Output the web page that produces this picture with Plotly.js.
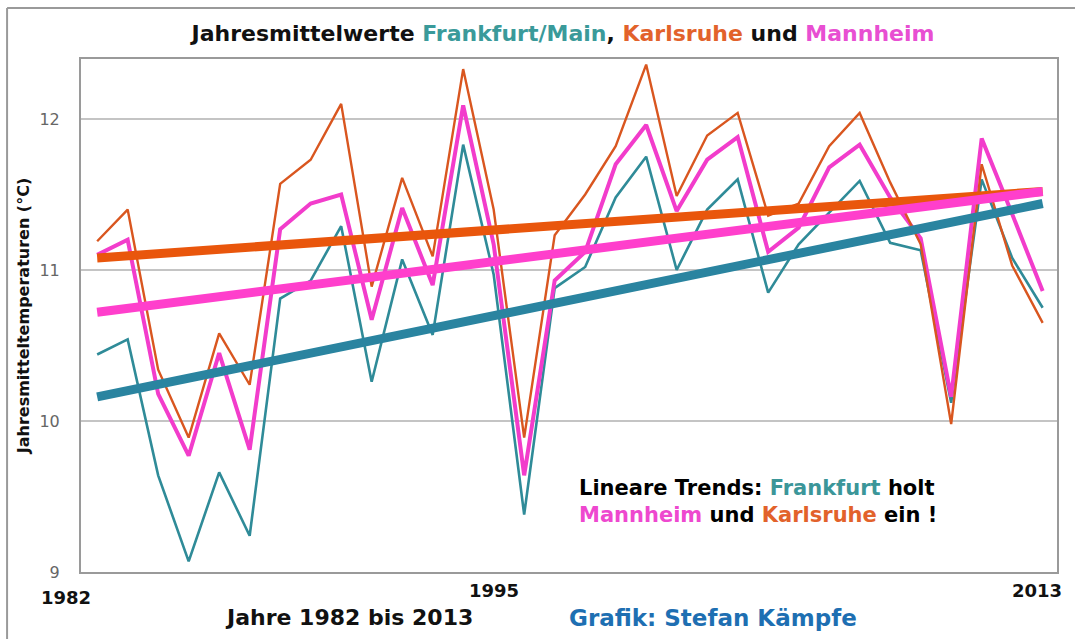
<!DOCTYPE html>
<html>
<head>
<meta charset="utf-8">
<script src="https://cdn.plot.ly/plotly-3.0.1.min.js"></script>
<style>
html,body{margin:0;padding:0;background:#fff;}
#chart{width:1076px;height:639px;}
</style>
</head>
<body>
<div id="chart"></div>
<script>
const years = [1982,1983,1984,1985,1986,1987,1988,1989,1990,1991,1992,1993,1994,1995,1996,1997,
               1998,1999,2000,2001,2002,2003,2004,2005,2006,2007,2008,2009,2010,2011,2012,2013];

const frankfurt = [10.44,10.54,9.64,9.07,9.66,9.24,10.81,10.93,11.29,10.26,11.07,10.57,11.83,10.97,9.38,10.88,
                   11.02,11.48,11.75,11.00,11.40,11.60,10.85,11.17,11.38,11.59,11.18,11.13,10.12,11.60,11.08,10.75];

const karlsruhe = [11.19,11.40,10.34,9.89,10.58,10.24,11.57,11.73,12.10,10.89,11.61,11.09,12.33,11.40,9.89,11.23,
                   11.50,11.82,12.36,11.49,11.89,12.04,11.36,11.44,11.82,12.04,11.58,11.17,9.98,11.70,11.03,10.65];

const mannheim = [11.10,11.20,10.18,9.77,10.45,9.81,11.27,11.44,11.50,10.67,11.41,10.90,12.09,11.17,9.64,10.93,
                  11.12,11.70,11.96,11.39,11.73,11.88,11.12,11.28,11.68,11.83,11.48,11.21,10.16,11.87,11.37,10.86];

// linear trend lines: values at first and last year
const trendYears = [1982, 2013];
const trendFrankfurt = [10.16, 11.44];
const trendKarlsruhe = [11.08, 11.52];
const trendMannheim = [10.72, 11.52];

const xTickYears = [1982, 1995, 2013];
const yTicks = [9, 10, 11, 12];

const cTeal = '#2f8b98', cTealTrend = '#2a84a0';
const cOrange = '#d9561f', cOrangeTrend = '#e9560c';
const cPink = '#f23ccb', cPinkTrend = '#ff3fcc';

const font = 'DejaVu Sans, Verdana, sans-serif';

const traces = [
  {x: years, y: frankfurt, mode: 'lines', line: {color: cTeal, width: 2.6}},
  {x: years, y: mannheim, mode: 'lines', line: {color: cPink, width: 4}},
  {x: years, y: karlsruhe, mode: 'lines', line: {color: cOrange, width: 2.4}},
  {x: trendYears, y: trendFrankfurt, mode: 'lines', line: {color: cTealTrend, width: 9}},
  {x: trendYears, y: trendKarlsruhe, mode: 'lines', line: {color: cOrangeTrend, width: 9}},
  {x: trendYears, y: trendMannheim, mode: 'lines', line: {color: cPinkTrend, width: 9}}
];

const xShifts = [-31, 0, -6];
const yShifts = [-25, -18, -18];

const annotations = xTickYears.map((yr, i) => ({
  x: yr, y: 0, xref: 'x', yref: 'paper', text: '<b>' + yr + '</b>', showarrow: false,
  xanchor: 'center', yanchor: 'middle', xshift: xShifts[i], yshift: yShifts[i],
  font: {family: font, size: 18, color: '#111'}
}));

annotations.push({
  xref: 'paper', yref: 'paper', x: (349 - 81) / 977, y: (572 - 618) / 513,
  text: '<b>Jahre 1982 bis 2013</b>', showarrow: false, xanchor: 'center', yanchor: 'middle',
  font: {family: font, size: 22, color: '#111'}
});
annotations.push({
  xref: 'paper', yref: 'paper', x: (714 - 81) / 977, y: (572 - 618) / 513,
  text: '<b>Grafik: Stefan Kämpfe</b>', showarrow: false, xanchor: 'center', yanchor: 'middle',
  font: {family: font, size: 23, color: '#1e6fb2'}
});
annotations.push({
  xref: 'paper', yref: 'paper', x: (578 - 81) / 977, y: (572 - 501) / 513,
  text: '<b>Lineare Trends: <span style="color:#3b9699">Frankfurt</span> holt</b><br>' +
        '<b><span style="color:#ee48cf">Mannheim</span> und <span style="color:#e2622b">Karlsruhe</span> ein !</b>',
  showarrow: false, xanchor: 'left', yanchor: 'middle', align: 'left',
  font: {family: font, size: 21, color: '#000'}
});

const layout = {
  width: 1076, height: 639,
  margin: {l: 81, r: 19, t: 59, b: 67},
  paper_bgcolor: '#ffffff', plot_bgcolor: '#ffffff',
  showlegend: false,
  title: {
    text: '<b>Jahresmittelwerte <span style="color:#3a9a9a">Frankfurt/Main</span>, ' +
          '<span style="color:#e2622b">Karlsruhe</span> und <span style="color:#e84fd2">Mannheim</span></b>',
    x: 563 / 1076, xanchor: 'center', y: 1 - 33 / 639, yanchor: 'middle',
    font: {family: font, size: 22, color: '#111'}
  },
  xaxis: {
    range: [1981.47, 2013.47], showticklabels: false, ticks: '',
    showgrid: false, zeroline: false,
    showline: true, linecolor: '#9a9a9a', linewidth: 2, mirror: true, fixedrange: true
  },
  yaxis: {
    range: [9, 12.397], tickvals: yTicks, ticktext: yTicks.map(String),
    ticks: 'outside', ticklen: 16, tickcolor: 'rgba(0,0,0,0)',
    tickfont: {family: font, size: 16, color: '#666'},
    showgrid: true, gridcolor: '#c4c4c4', gridwidth: 1.5, zeroline: false,
    showline: true, linecolor: '#9a9a9a', linewidth: 2, mirror: true, fixedrange: true,
    title: {text: '<b>Jahresmitteltemperaturen (°C)</b>', standoff: 6,
            font: {family: font, size: 16, color: '#111'}}
  },
  shapes: [
    {type: 'line', xref: 'paper', yref: 'paper', x0: (7 - 81) / 977, x1: (1076 - 81) / 977,
     y0: (572 - 8) / 513, y1: (572 - 8) / 513, line: {color: '#9a9a9a', width: 2}},
    {type: 'line', xref: 'paper', yref: 'paper', x0: (7 - 81) / 977, x1: (7 - 81) / 977,
     y0: (572 - 8) / 513, y1: (572 - 640) / 513, line: {color: '#9a9a9a', width: 2}}
  ],
  annotations: annotations
};

Plotly.newPlot('chart', traces, layout, {displayModeBar: false, staticPlot: true});
</script>
</body>
</html>
